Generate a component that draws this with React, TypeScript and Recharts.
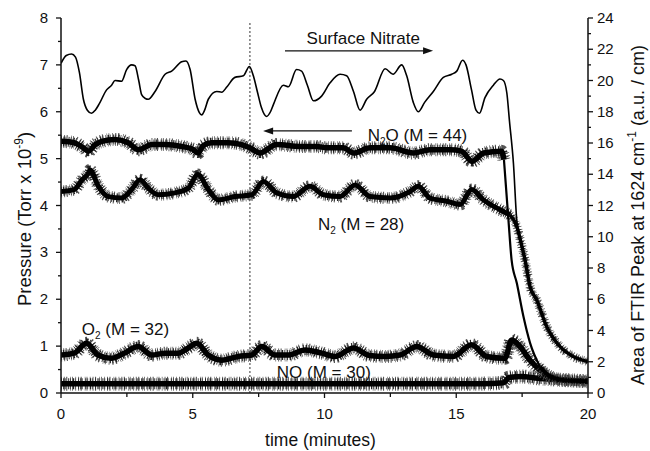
import React from 'react';
import { LineChart, Line, XAxis, YAxis, ReferenceLine, ReferenceDot, Label } from 'recharts';

// ---- data (time in minutes) ----
const nitrateTime = [0, 0.2, 0.4, 0.55, 0.7, 0.85, 1.0, 1.16, 1.3, 1.45, 1.73, 1.92, 2.05, 2.3, 2.49, 2.68, 2.81, 2.95, 3.06, 3.2, 3.31, 3.57, 3.95, 4.2, 4.58, 4.74, 4.9, 5.09, 5.25, 5.34, 5.45, 5.59, 5.91, 6.1, 6.3, 6.6, 6.92, 7.15, 7.3, 7.45, 7.6, 7.8, 7.95, 8.06, 8.44, 8.63, 8.94, 9.13, 9.35, 9.58, 9.89, 10.21, 10.59, 10.84, 11.1, 11.35, 11.6, 11.9, 12.3, 12.6, 12.93, 13.12, 13.37, 13.56, 13.8, 14.13, 14.51, 14.83, 15.02, 15.24, 15.37, 15.58, 15.75, 15.88, 16.09, 16.41, 16.66, 16.79, 16.92, 17.02, 17.17, 17.3, 17.49, 17.61, 17.8, 18.05, 18.43, 18.94, 19.44, 20];
const nitrateArea = [21.1, 21.6, 21.7, 21.5, 20.5, 18.8, 18.1, 17.9, 18.1, 18.5, 19.4, 19.7, 20.0, 19.95, 20.7, 21.0, 20.95, 20.0, 19.1, 18.85, 18.8, 19.3, 20.4, 20.6, 21.2, 21.25, 20.7, 18.8, 17.95, 17.8, 18.1, 18.8, 19.3, 19.25, 19.6, 20.2, 20.3, 20.9, 20.3, 19.3, 18.3, 17.7, 18.0, 18.46, 19.7, 19.6, 20.7, 20.6, 19.7, 18.7, 19.0, 19.85, 20.4, 20.3, 19.3, 18.1, 18.8, 19.3, 20.75, 20.4, 21.0, 20.3, 18.6, 18.0, 18.6, 19.3, 20.2, 20.4, 20.6, 21.3, 21.0, 19.4, 18.1, 17.9, 18.9, 19.7, 20.1, 20.0, 19.2, 17.4, 14.7, 11.0, 9.4, 8.5, 6.8, 5.96, 4.25, 2.97, 2.31, 1.99];

const n2oTime = [0, 0.5, 0.8, 1.04, 1.3, 1.55, 2.05, 2.55, 2.94, 3.45, 3.95, 4.58, 5.0, 5.2, 5.4, 5.72, 6.35, 6.85, 7.17, 7.55, 8.18, 9.07, 9.7, 10.09, 10.71, 11.1, 11.73, 12.49, 13.37, 14.0, 14.76, 15.2, 15.6, 16.04, 16.72, 16.81, 16.98, 17.1, 17.3, 17.55, 17.8, 18.18, 18.56, 19.0, 19.5, 20];
const n2oPressure = [5.37, 5.34, 5.25, 5.16, 5.3, 5.37, 5.41, 5.34, 5.19, 5.3, 5.3, 5.26, 5.2, 5.12, 5.28, 5.34, 5.34, 5.3, 5.23, 5.12, 5.3, 5.26, 5.26, 5.23, 5.23, 5.12, 5.23, 5.23, 5.12, 5.19, 5.19, 5.16, 4.94, 5.12, 5.16, 4.98, 3.7, 2.84, 2.34, 1.63, 1.07, 0.56, 0.35, 0.28, 0.26, 0.25];

const n2Time = [0, 0.5, 0.8, 1.04, 1.1, 1.42, 1.8, 2.3, 2.68, 3.0, 3.31, 3.69, 4.32, 4.83, 5.19, 5.59, 5.97, 6.6, 7.24, 7.68, 8.18, 8.81, 9.45, 9.96, 10.59, 11.16, 11.73, 12.49, 13.25, 13.56, 14.0, 14.64, 15.14, 15.59, 16.03, 16.66, 17.04, 17.3, 17.49, 17.61, 17.8, 18.05, 18.43, 18.94, 19.44, 20];
const n2Pressure = [4.3, 4.34, 4.55, 4.69, 4.76, 4.41, 4.19, 4.16, 4.34, 4.55, 4.37, 4.23, 4.27, 4.37, 4.66, 4.34, 4.12, 4.19, 4.23, 4.51, 4.27, 4.19, 4.41, 4.23, 4.19, 4.44, 4.19, 4.16, 4.3, 4.41, 4.16, 4.09, 4.02, 4.34, 4.12, 3.91, 3.8, 3.55, 3.13, 2.84, 2.27, 1.99, 1.42, 0.99, 0.78, 0.67];

const o2Time = [0, 0.5, 0.97, 1.4, 1.9, 2.4, 2.93, 3.44, 3.95, 4.45, 4.83, 5.15, 5.59, 6.1, 6.73, 7.24, 7.62, 8.12, 8.63, 9.26, 9.9, 10.4, 11.1, 11.7, 12.3, 12.87, 13.5, 14.13, 14.89, 15.58, 16.15, 16.85, 17.1, 17.42, 17.8, 18.18, 18.56, 19.0, 20];
const o2Pressure = [0.81, 0.85, 1.06, 0.81, 0.74, 0.85, 0.99, 0.81, 0.85, 0.85, 0.96, 1.06, 0.81, 0.7, 0.78, 0.81, 0.99, 0.81, 0.81, 0.92, 0.85, 0.78, 0.96, 0.8, 0.78, 0.81, 0.99, 0.81, 0.78, 1.03, 0.78, 0.74, 1.13, 0.99, 0.7, 0.49, 0.35, 0.28, 0.25];

const noTime = [0, 2, 4, 6, 8, 10, 12, 14, 16, 16.8, 17.0, 17.5, 18, 19, 20];
const noPressure = [0.2, 0.2, 0.2, 0.2, 0.2, 0.2, 0.2, 0.2, 0.2, 0.22, 0.33, 0.35, 0.32, 0.28, 0.25];

const xTicks = [0, 2.5, 5, 7.5, 10, 12.5, 15, 17.5, 20];
const leftTicks = [0, 0.5, 1, 1.5, 2, 2.5, 3, 3.5, 4, 4.5, 5, 5.5, 6, 6.5, 7, 7.5, 8];
const rightTicks = [0, 1, 2, 3, 4, 5, 6, 7, 8, 9, 10, 11, 12, 13, 14, 15, 16, 17, 18, 19, 20, 21, 22, 23, 24];

const markerTime = 7.17;

const zip = (ts: number[], vs: number[]) => ts.map((t, i) => ({ t, v: vs[i] }));
const nitrateData = zip(nitrateTime, nitrateArea);
const n2oData = zip(n2oTime, n2oPressure);
const n2Data = zip(n2Time, n2Pressure);
const o2Data = zip(o2Time, o2Pressure);
const noData = zip(noTime, noPressure);

// N2O: noisy plateau, then a steep (thin-looking) drop, then noisy baseline
const n2oDropStart = 35;
const n2oDropEnd = 41;
const n2oPlateau = n2oData.slice(0, n2oDropStart + 1);
const n2oDrop = n2oData.slice(n2oDropStart, n2oDropEnd + 1);
const n2oTail = n2oData.slice(n2oDropEnd);
// N2: noisy plateau, then a narrower decay
const n2DecayStart = 36;
const n2Plateau = n2Data.slice(0, n2DecayStart + 1);
const n2Decay = n2Data.slice(n2DecayStart);

const FONT = '"Liberation Sans", Arial, Helvetica, sans-serif';
const INK = '#111';

const XTick = (p: any) => {
  const major = p.payload.value % 5 === 0;
  return (
    <g>
      <line x1={p.x} y1={p.y} x2={p.x} y2={p.y + (major ? 5 : 4)} stroke={INK} strokeWidth={1.3} />
      {major && (
        <text x={p.x} y={p.y + 26} textAnchor="middle" fontSize={15} fontFamily={FONT} fill={INK}>
          {p.payload.value}
        </text>
      )}
    </g>
  );
};

const LeftTick = (p: any) => {
  const major = p.payload.value % 1 === 0;
  return (
    <g>
      <line x1={p.x - (major ? 5 : 3)} y1={p.y} x2={p.x} y2={p.y} stroke={INK} strokeWidth={1.3} />
      {major && (
        <text x={p.x - 13} y={p.y + 5} textAnchor="end" fontSize={15} fontFamily={FONT} fill={INK}>
          {p.payload.value}
        </text>
      )}
    </g>
  );
};

const RightTick = (p: any) => {
  const major = p.payload.value % 2 === 0;
  return (
    <g>
      <line x1={p.x} y1={p.y} x2={p.x + (major ? 5 : 3)} y2={p.y} stroke={INK} strokeWidth={1.3} />
      {major && (
        <text x={p.x + 9} y={p.y + 5} textAnchor="start" fontSize={15} fontFamily={FONT} fill={INK}>
          {p.payload.value}
        </text>
      )}
    </g>
  );
};

const XTitle = (p: any) => {
  const vb = p.viewBox;
  return (
    <text x={vb.x + vb.width / 2 - 4} y={vb.y + 53} textAnchor="middle" fontSize={17.5} fontFamily={FONT} fill={INK}>
      time (minutes)
    </text>
  );
};

const LeftTitle = () => {
  const cx = 31;
  const cy = 219;
  return (
    <text x={cx} y={cy} transform={`rotate(-90 ${cx} ${cy})`} textAnchor="middle" fontSize={18.5} fontFamily={FONT} fill={INK}>
      Pressure (Torr x 10
      <tspan dy={-8} fontSize={12}>-9</tspan>
      <tspan dy={8}>)</tspan>
    </text>
  );
};

const RightTitle = () => {
  const cx = 644;
  const cy = 215;
  return (
    <text x={cx} y={cy} transform={`rotate(-90 ${cx} ${cy})`} textAnchor="middle" fontSize={18} fontFamily={FONT} fill={INK}>
      Area of FTIR Peak at 1624 cm
      <tspan dy={-8} fontSize={12}>-1</tspan>
      <tspan dy={8}> (a.u. / cm)</tspan>
    </text>
  );
};

const note = (main: string, sub: string | null, rest: string) => (p: any) => (
  <text x={p.cx} y={p.cy} fontSize={17} fontFamily={FONT} fill={INK}>
    {main}
    {sub !== null && <tspan dy={4} fontSize={10}>{sub}</tspan>}
    {sub !== null && <tspan dy={-4}>{rest}</tspan>}
  </text>
);

const headRight = (p: any) => (
  <polygon points={`${p.cx},${p.cy} ${p.cx - 10},${p.cy - 3.5} ${p.cx - 10},${p.cy + 3.5}`} fill={INK} />
);
const headLeft = (p: any) => (
  <polygon points={`${p.cx},${p.cy} ${p.cx + 10},${p.cy - 3.5} ${p.cx + 10},${p.cy + 3.5}`} fill={INK} />
);

// a noisy mass-spec trace drawn as a ragged fringe (irregular dashes) under a solid core
const FRINGE_A = '0.8 1.4 1.2 0.9 0.6 2.3 1 1.1 0.7 1.8 1.3 0.8 0.6 2.6';
const FRINGE_B = '0.7 2.1 0.9 1.5 1.1 3.1 0.6 1.2 0.8 2.4';
const noisy = (key: string, data: any[], core = 5.5, fringe = 10) => [
  <Line key={key + '-b'} xAxisId="x" yAxisId="left" data={data} dataKey="v" type="monotone" stroke="#555" strokeWidth={fringe + 3} strokeDasharray={FRINGE_B} dot={false} isAnimationActive={false} />,
  <Line key={key + '-f'} xAxisId="x" yAxisId="left" data={data} dataKey="v" type="monotone" stroke="#222" strokeWidth={fringe} strokeDasharray={FRINGE_A} dot={false} isAnimationActive={false} />,
  <Line key={key + '-c'} xAxisId="x" yAxisId="left" data={data} dataKey="v" type="monotone" stroke="#000" strokeWidth={core} strokeLinejoin="round" dot={false} isAnimationActive={false} />,
];

export default function App() {
  return (
    <div style={{ position: 'absolute', left: 0, top: 0, background: '#fff' }}>
      <LineChart width={650} height={451} margin={{ top: 18, right: 0, bottom: 0, left: 0 }}>
        <XAxis
          xAxisId="x"
          type="number"
          dataKey="t"
          domain={[0, 20]}
          ticks={xTicks}
          interval={0}
          tickSize={0}
          tickMargin={0}
          tickLine={false}
          tick={<XTick />}
          axisLine={{ stroke: INK, strokeWidth: 1.5 }}
          height={58}
          allowDataOverflow
        >
          <Label content={<XTitle />} />
        </XAxis>
        <YAxis
          yAxisId="left"
          orientation="left"
          type="number"
          domain={[0, 8]}
          ticks={leftTicks}
          interval={0}
          tickSize={0}
          tickMargin={0}
          tickLine={false}
          tick={<LeftTick />}
          axisLine={{ stroke: INK, strokeWidth: 1.5 }}
          width={61}
          allowDataOverflow
        >
          <Label content={<LeftTitle />} />
        </YAxis>
        <YAxis
          yAxisId="right"
          orientation="right"
          type="number"
          domain={[0, 24]}
          ticks={rightTicks}
          interval={0}
          tickSize={0}
          tickMargin={0}
          tickLine={false}
          tick={<RightTick />}
          axisLine={{ stroke: INK, strokeWidth: 1.5 }}
          width={62}
          allowDataOverflow
        >
          <Label content={<RightTitle />} />
        </YAxis>

        <ReferenceLine
          xAxisId="x"
          yAxisId="left"
          segment={[{ x: markerTime, y: 0 }, { x: markerTime, y: 7.92 }]}
          stroke="#333"
          strokeWidth={1}
          strokeDasharray="2 2"
        />

        {noisy('no', noData, 5.5, 11)}
        {noisy('o2', o2Data)}
        {noisy('n2', n2Plateau, 5, 9)}
        {noisy('n2d', n2Decay, 3.5, 6)}
        {noisy('n2o', n2oPlateau)}
        <Line xAxisId="x" yAxisId="left" data={n2oDrop} dataKey="v" type="monotone" stroke="#000" strokeWidth={2.2} dot={false} isAnimationActive={false} />
        {noisy('n2oTail', n2oTail, 4, 7)}
        <Line xAxisId="x" yAxisId="right" data={nitrateData} dataKey="v" type="monotone" stroke="#000" strokeWidth={1.6} dot={false} isAnimationActive={false} />

        <ReferenceLine xAxisId="x" yAxisId="left" segment={[{ x: 8.5, y: 7.3 }, { x: 13.9, y: 7.3 }]} stroke={INK} strokeWidth={1.2} />
        <ReferenceDot xAxisId="x" yAxisId="left" x={14.12} y={7.3} r={0} shape={headRight} />
        <ReferenceLine xAxisId="x" yAxisId="left" segment={[{ x: 7.9, y: 5.59 }, { x: 11.04, y: 5.59 }]} stroke={INK} strokeWidth={1.2} />
        <ReferenceDot xAxisId="x" yAxisId="left" x={7.67} y={5.59} r={0} shape={headLeft} />

        <ReferenceDot xAxisId="x" yAxisId="left" x={9.32} y={7.44} r={0} shape={note('Surface Nitrate', null, '')} />
        <ReferenceDot xAxisId="x" yAxisId="left" x={11.64} y={5.38} r={0} shape={note('N', '2', 'O (M = 44)')} />
        <ReferenceDot xAxisId="x" yAxisId="left" x={9.75} y={3.48} r={0} shape={note('N', '2', ' (M = 28)')} />
        <ReferenceDot xAxisId="x" yAxisId="left" x={0.79} y={1.24} r={0} shape={note('O', '2', ' (M = 32)')} />
        <ReferenceDot xAxisId="x" yAxisId="left" x={8.19} y={0.32} r={0} shape={note('NO (M = 30)', null, '')} />
      </LineChart>
    </div>
  );
}
